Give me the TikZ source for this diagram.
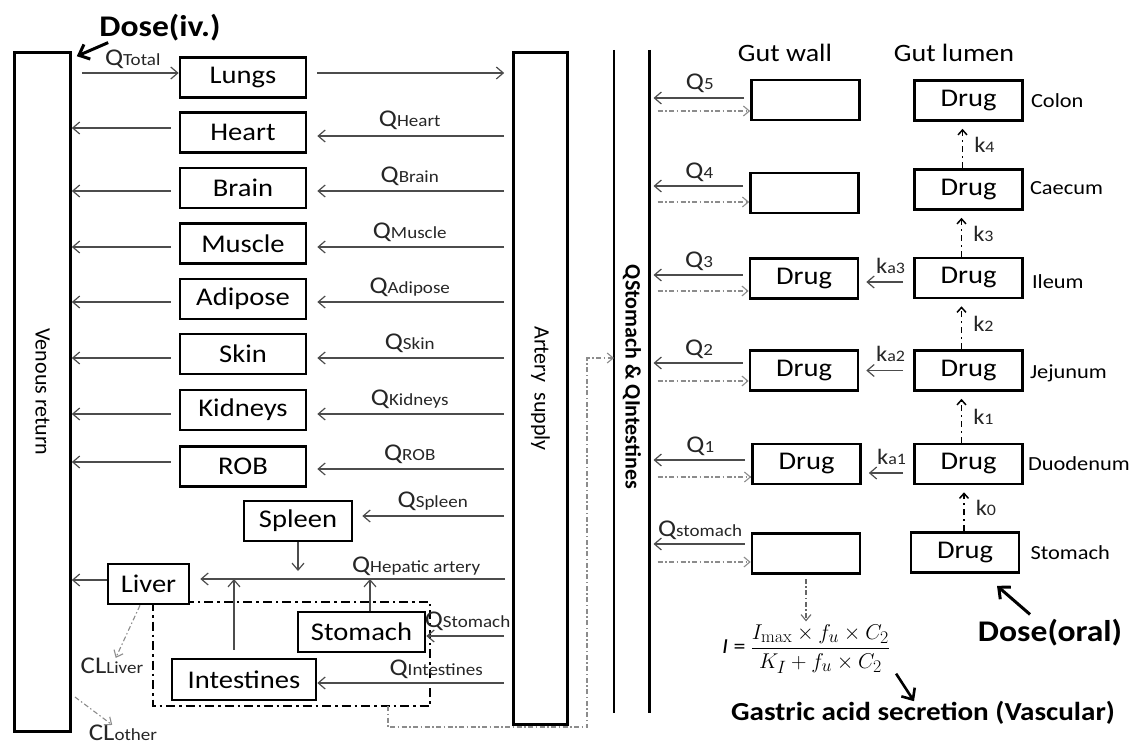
\documentclass[tikz,border=0pt]{standalone}
\usepackage[no-math]{fontspec}
\setmainfont{Carlito}[FakeStretch=1.12]
\newfontfamily\rotfont{Carlito}
\usetikzlibrary{arrows.meta,calc}

\newcommand\qlb[1]{{\fontsize{24}{24}\selectfont Q}{\fontsize{17}{17}\selectfont #1}}
\newcommand\klb[1]{{\fontsize{22}{22}\selectfont k}{\fontsize{16}{16}\selectfont #1}}
\newcommand\cllb[1]{{\fontsize{24}{24}\selectfont CL}{\fontsize{17}{17}\selectfont #1}}

\begin{document}
\begin{tikzpicture}[x=1pt,y=-1pt,
  box/.style={draw=black, line width=2.6pt, fill=white, inner sep=0pt, font=\fontsize{25.5}{26}\selectfont},
  organ/.style={box, minimum width=126pt, minimum height=40pt},
  gbox/.style={box, minimum width=108pt, minimum height=40pt},
  flow/.style={draw=black!70, line width=1.2pt, -{Straight Barb[length=7pt,width=12pt]}},
  dflow/.style={draw=black!45, line width=1.1pt, dash pattern=on 5pt off 2.5pt on 1.5pt off 2.5pt, -{Straight Barb[length=6pt,width=10pt]}},
  karr/.style={draw=black, line width=1.5pt, dash pattern=on 6pt off 4pt on 2pt off 4pt, -{Straight Barb[length=5pt,width=9pt]}},
  thickarrow/.style={draw=black, line width=3pt, -{Straight Barb[length=9pt,width=16pt]}},
  qlab/.style={text=black!85, inner sep=0pt, anchor=base},
  seg/.style={font=\fontsize{20}{20}\selectfont, inner sep=0pt, anchor=west},
  hdr/.style={font=\fontsize{25}{25}\selectfont, inner sep=0pt},
  rot/.style={inner sep=0pt, rotate=-90, font=\rotfont\fontsize{22}{22}\selectfont}
]
\useasboundingbox (0,0) rectangle (1131,749);

% main vertical compartments
\node[box, minimum width=56pt, minimum height=679pt] (venous) at (42.5,392) {};
\node[rot] (vtxt) at (venous.center) {Venous return};
\node[box, minimum width=54pt, minimum height=672pt] (artery) at (540.5,388.5) {};
\node[rot] (atxt) at (artery.center) {Artery\ \ supply};

% dose iv
\node[font=\bfseries\fontsize{30}{30}\selectfont, inner sep=0pt] (doseiv) at (160,28) {Dose(iv.)};
\draw[thickarrow] ([xshift=9pt,yshift=-1pt]doseiv.south west) -- ([xshift=5pt,yshift=-5pt]venous.north east);

% lungs
\node[organ] (lungs) at (243,77.5) {Lungs};
\coordinate (Llungs) at ([yshift=4.5pt]lungs.west);
\draw[flow, shorten <=10pt] (Llungs -| venous.east) -- node[qlab, pos=0.57, yshift=7pt]{\qlb{Total}} (Llungs);
\draw[flow, shorten <=10pt, shorten >=8pt] (Llungs -| lungs.east) -- (Llungs -| artery.west);

% organ rows
\foreach \nm/\tx/\yy/\la/\ra in {heart/Heart/132.5/4.5/-3.5, brain/Brain/188/-3/-3, muscle/Muscle/243.5/-3.5/-3.5, adipose/Adipose/299/-3/-3, skin/Skin/354/-4/-4, kidneys/Kidneys/410/-4/-4, rob/ROB/466.5/4.5/-2.5}{
  \node[organ] (\nm) at (243,\yy) {\tx};
  \coordinate (L\nm) at ([yshift=\la pt]\nm.west);
  \draw[flow, shorten <=8pt] (L\nm) -- (L\nm -| venous.east);
  \coordinate (R\nm) at ([yshift=\ra pt]\nm.east);
  \draw[flow, shorten <=8pt, shorten >=10pt] (R\nm -| artery.west) -- node[qlab, yshift=9pt]{\qlb{\tx}} (R\nm);
}

% spleen
\node[box, minimum width=108pt, minimum height=40pt] (spleen) at (298,521) {Spleen};
\coordinate (Rspleen) at ([yshift=5pt]spleen.east);
\draw[flow, shorten <=8pt, shorten >=9pt] (Rspleen -| artery.west) -- node[qlab, yshift=9pt]{\qlb{Spleen}} (Rspleen);

% dash-dot splanchnic box
\coordinate (dbA) at (153,602);
\coordinate (dbB) at (430,706);
\draw[line width=2.2pt, dash pattern=on 9pt off 4pt on 2.5pt off 4pt] (dbA) rectangle (dbB);

\node[box, minimum width=81pt, minimum height=40pt] (liver) at (148.5,584) {Liver};
\node[box, minimum width=127pt, minimum height=40pt] (stomach) at (361.5,632) {Stomach};
\node[box, minimum width=144pt, minimum height=41pt] (intestines) at (244,679.5) {Intestines};

\coordinate (hep) at (513,579);
\draw[flow, shorten <=8pt, shorten >=10pt] (hep) -- node[qlab, pos=0.3, yshift=7pt]{\qlb{Hepatic artery}} (hep -| liver.east);
\coordinate (Lliver) at ([yshift=4pt]liver.west);
\draw[flow] (Lliver) -- (Lliver -| venous.east);
\draw[flow, shorten >=8pt] (spleen.south) -- (spleen.south |- hep);
\coordinate (iu) at ([xshift=-10pt]intestines.north);
\draw[flow, shorten <=8pt] (iu) -- (iu |- hep);
\coordinate (su) at ([xshift=8.5pt]stomach.north);
\draw[flow] (su) -- (su |- hep);
\coordinate (Rstom) at ([yshift=-4pt]stomach.east);
\draw[flow, shorten <=8pt] (Rstom -| artery.west) -- node[qlab, pos=0.52, yshift=9pt]{\qlb{Stomach}} (Rstom);
\coordinate (Rint) at ([yshift=-3.5pt]intestines.east);
\draw[flow, shorten <=8pt] (Rint -| artery.west) -- node[qlab, pos=0.39, yshift=8pt]{\qlb{Intestines}} (Rint);

% clearances
\node[qlab, anchor=center] (cll) at (112,666) {\cllb{Liver}};
\draw[dflow] ([xshift=-8.5pt]liver.south) -- (cll);
\coordinate (clos) at (75,697);
\node[qlab, anchor=center] (clo) at (123,733) {\cllb{other}};
\draw[dflow] (clos) -- (clo);

% portal lines of the gut
\coordinate (g1t) at (614,50);
\coordinate (g1b) at (614,713);
\coordinate (g2t) at (649.5,50);
\coordinate (g2b) at (649.5,713);
\draw[line width=2.4pt] (g1t) -- (g1b);
\draw[line width=2.4pt] (g2t) -- (g2b);
\node[rot, font=\rotfont\bfseries\fontsize{22}{22}\selectfont] (qsi) at (632,377) {QStomach \& QIntestines};

\coordinate (dbs) at (388,706);
\coordinate (dbc) at (587,727);
\coordinate (dbe) at (587,358);
\draw[dflow] (dbs) |- (dbc) -- (dbe) -- (dbe -| g1t);

% gut headers
\node[hdr] (gwall) at (785,53) {Gut wall};
\node[hdr] (glumen) at (954,53) {Gut lumen};

% gut wall boxes
\node[gbox] (w5) at (805.5,100) {};
\node[gbox] (w4) at (804.5,193) {};
\node[gbox] (w3) at (804,278.5) {Drug};
\node[gbox] (w2) at (804,370.5) {Drug};
\node[gbox] (w1) at (806.5,464) {Drug};
\node[gbox] (w0) at (806,553.5) {};

% gut lumen boxes
\node[gbox] (colon) at (968.5,100.5) {Drug};
\node[gbox] (caecum) at (968.5,189.5) {Drug};
\node[gbox] (ileum) at (968.5,278) {Drug};
\node[gbox] (jejunum) at (968.5,370.5) {Drug};
\node[gbox] (duodenum) at (968.5,464) {Drug};
\node[gbox] (stomachL) at (965,552.5) {Drug};

\node[seg] (lcolon) at ([xshift=7pt]colon.east) {Colon};
\node[seg] (lcaecum) at ([xshift=6pt,yshift=1pt]caecum.east) {Caecum};
\node[seg] (lileum) at ([xshift=8pt,yshift=-4pt]ileum.east) {Ileum};
\node[seg] (ljejunum) at ([xshift=6pt,yshift=-2.5pt]jejunum.east) {Jejunum};
\node[seg] (lduodenum) at ([xshift=4pt]duodenum.east) {Duodenum};
\node[seg] (lstomach) at ([xshift=10pt]stomachL.east) {Stomach};

% flows between wall and portal line
\foreach \w/\qa/\qd/\lab in {w5/2/-11/5, w4/7/-9/4, w3/3.5/-12.5/3, w2/7.5/-10.5/2, w1/4/-13/1, w0/9.5/-8.5/stomach}{
  \coordinate (Q\w) at ([yshift=\qa pt]\w.west);
  \draw[flow, shorten <=6pt, shorten >=4pt] (Q\w) -- node[qlab, yshift=8pt]{\qlb{\lab}} (Q\w -| g2t);
  \coordinate (D\w) at ([yshift=\qd pt]\w.west);
  \draw[dflow, shorten <=8pt] (D\w -| g2t) -- (D\w);
}

% absorption
\foreach \src/\dst/\s/\lab in {ileum/w3/-4/a3, jejunum/w2/0/a2, duodenum/w1/-9/a1}{
  \coordinate (K\src) at ([yshift=\s pt]\src.west);
  \draw[flow, shorten <=10pt, shorten >=7pt] (K\src) -- node[qlab, pos=0.42, yshift=9pt]{\klb{\lab}} (K\src -| \dst.east);
}

% transit
\foreach \lo/\hi/\xs/\lab in {caecum/colon/-6/4, ileum/caecum/-7/3, jejunum/ileum/-7/2, duodenum/jejunum/-7/1, stomachL/duodenum/-1/0}{
  \coordinate (k\lo) at ([xshift=\xs pt]\lo.north);
  \draw[karr, shorten >=7pt] (k\lo) -- node[qlab, anchor=west, xshift=11pt]{\klb{\lab}} (k\lo |- \hi.south);
}

% dose oral
\node[font=\bfseries\fontsize{30}{30}\selectfont, inner sep=0pt] (doseoral) at (1050,633) {Dose(oral)};
\draw[thickarrow] ([xshift=-20pt,yshift=5pt]doseoral.north) -- ([xshift=32pt,yshift=-12pt]stomachL.south);

% formula
\node[inner sep=0pt, font=\fontsize{24.88}{28}\selectfont] (formula) at (806,649) {\scalebox{0.86}{{\itshape I} = $\displaystyle\frac{I_{\mathrm{max}}\times f_u\times C_2}{K_I+f_u\times C_2}$}};
\draw[dflow, draw=black!60, shorten <=4pt, shorten >=3pt] (w0.south) -- (w0.south |- formula.north);

\node[font=\bfseries\fontsize{26}{26}\selectfont, inner sep=0pt] (gastric) at (923,713) {Gastric acid secretion (Vascular)};
\draw[thickarrow, line width=2.6pt] ([xshift=6pt,yshift=0pt]formula.south east) -- ([xshift=-9pt]gastric.north);
\end{tikzpicture}
\end{document}
